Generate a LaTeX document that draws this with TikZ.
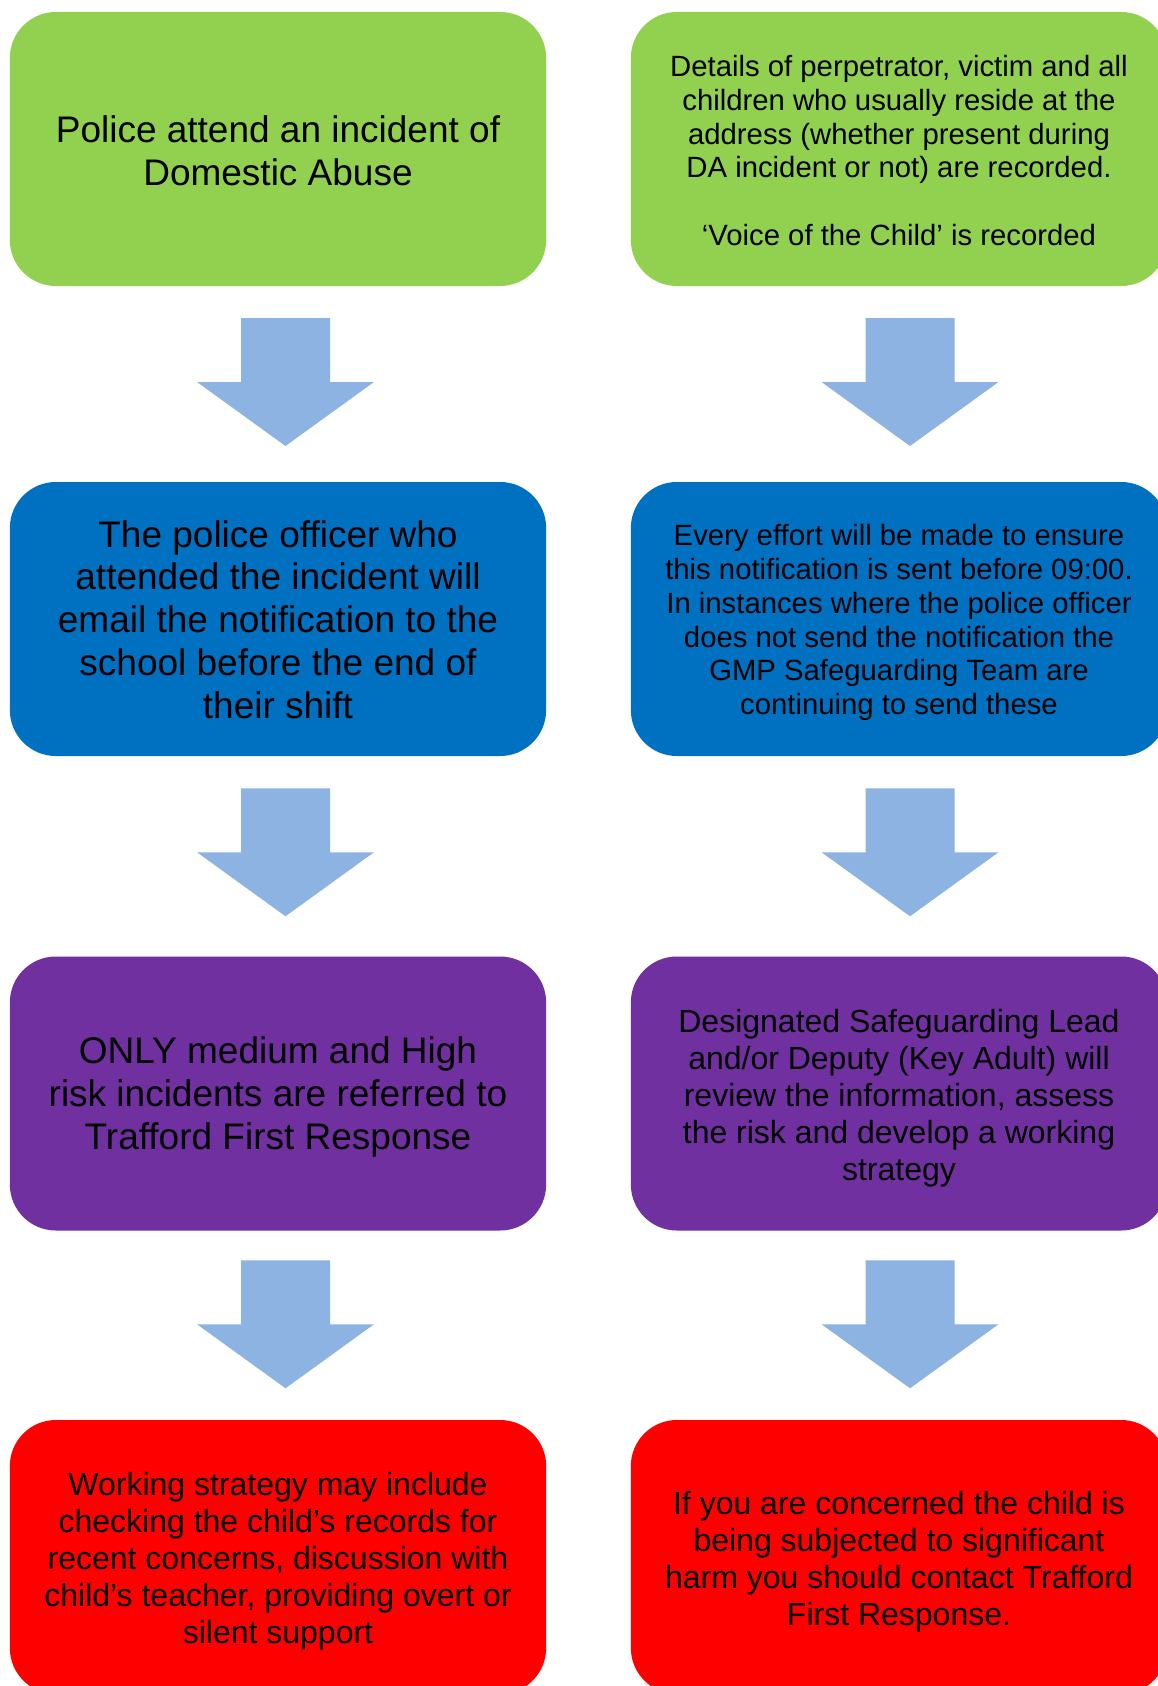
\documentclass[tikz,border=0pt]{standalone}
\usepackage{fontspec}
\setmainfont{Liberation Sans}
\usetikzlibrary{calc}
\definecolor{dagreen}{HTML}{92D050}
\definecolor{dablue}{HTML}{0070C0}
\definecolor{dapurple}{HTML}{7030A0}
\definecolor{dared}{HTML}{FF0000}
\definecolor{arrowblue}{HTML}{8DB3E2}
\tikzset{
  box/.style={rectangle, rounded corners=46pt, minimum width=536.3pt, minimum height=274pt,
    inner sep=0pt},
  boxtext/.style={inner sep=0pt, align=center, text=black},
  bigtext/.style={boxtext, font=\fontsize{37}{42.8}\selectfont},
  midtext/.style={boxtext, font=\fontsize{32}{36.9}\selectfont},
  smalltext/.style={boxtext, font=\fontsize{29.3}{33.9}\selectfont},
  downarr/.pic={\fill[arrowblue] (-44.5,-64) -- (44.5,-64) -- (44.5,0) -- (88.5,0) -- (0,64) -- (-88.5,0) -- (-44.5,0) -- cycle;}
}
\begin{document}
\begin{tikzpicture}[x=1pt,y=-1pt]
\useasboundingbox[fill=white] (0,0) rectangle (1157,1686);
% boxes
\node[box, fill=dagreen] (g1) at (278,149) {};
\node[box, fill=dagreen] (g2) at (899,149) {};
\node[box, fill=dablue] (b1) at (278,619) {};
\node[box, fill=dablue] (b2) at (899,619) {};
\node[box, fill=dapurple] (p1) at (278,1093.5) {};
\node[box, fill=dapurple] (p2) at (899,1093.5) {};
\node[box, fill=dared] (r1) at (278,1557) {};
\node[box, fill=dared] (r2) at (899,1557) {};
% texts
\node[bigtext] (g1t) at ($(g1.center)+(0,1.5)$) {Police attend an incident of\\Domestic Abuse};
\node[smalltext] (g2t) at ($(g2.center)+(0,1.5)$) {Details of perpetrator, victim and all\\children who usually reside at the\\address (whether present during\\DA incident or not) are recorded.\\[33.9pt]‘Voice of the Child’ is recorded};
\node[bigtext] (b1t) at ($(b1.center)+(0,0.5)$) {The police officer who\\attended the incident will\\email the notification to the\\school before the end of\\their shift};
\node[smalltext] (b2t) at ($(b2.center)+(0,3.5)$) {Every effort will be made to ensure\\this notification is sent before 09:00.\\In instances where the police officer\\does not send the notification the\\GMP Safeguarding Team are\\continuing to send these};
\node[bigtext] (p1t) at ($(p1.center)+(0,3.5)$) {ONLY medium and High\\risk incidents are referred to\\Trafford First Response};
\node[midtext] (p2t) at ($(p2.center)+(0,4.5)$) {Designated Safeguarding Lead\\and/or Deputy (Key Adult) will\\review the information, assess\\the risk and develop a working\\strategy};
\node[midtext] (r1t) at ($(r1.center)+(0,4.5)$) {Working strategy may include\\checking the child’s records for\\recent concerns, discussion with\\child’s teacher, providing overt or\\silent support};
\node[midtext] (r2t) at ($(r2.center)+(0,4.5)$) {If you are concerned the child is\\being subjected to significant\\harm you should contact Trafford\\First Response.};
% arrows
\path ($(g1.south)!0.5!(b1.north)+(7.5,-2)$) pic {downarr};
\path ($(g2.south)!0.5!(b2.north)+(11,-2)$) pic {downarr};
\path ($(b1.south)!0.5!(p1.north)+(7.5,-4)$) pic {downarr};
\path ($(b2.south)!0.5!(p2.north)+(11,-4)$) pic {downarr};
\path ($(p1.south)!0.5!(r1.north)+(7.5,-1)$) pic {downarr};
\path ($(p2.south)!0.5!(r2.north)+(11,-1)$) pic {downarr};
\end{tikzpicture}
\end{document}
